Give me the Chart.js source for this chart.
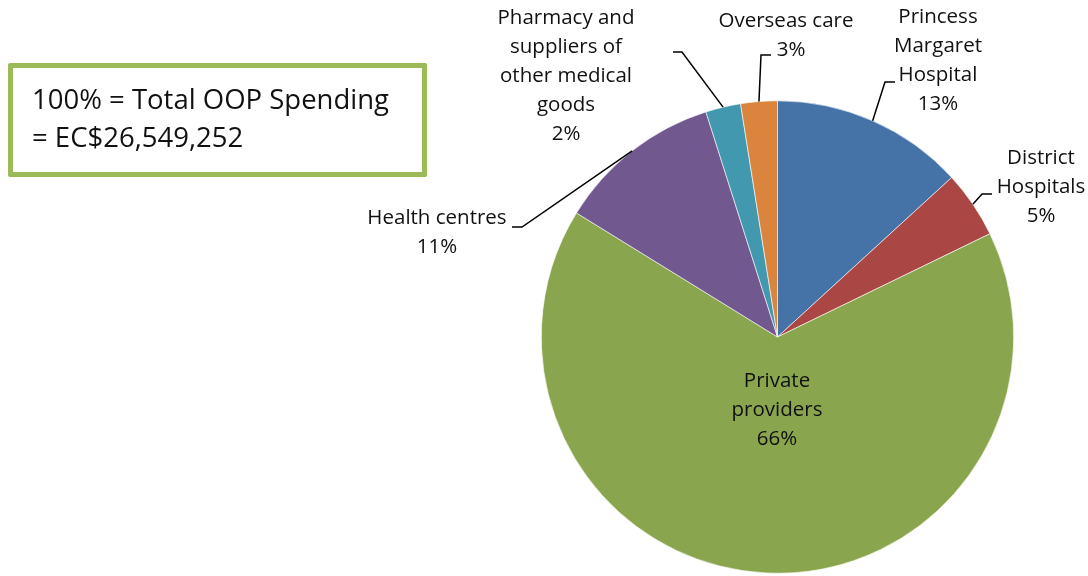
<!DOCTYPE html>
<html>
<head>
<meta charset="utf-8">
<script src="https://cdn.jsdelivr.net/npm/chart.js@4.4.1/dist/chart.umd.min.js"></script>
<style>
  html, body { margin: 0; padding: 0; background: #fff; }
  #wrap { position: relative; width: 1088px; height: 576px; }
  #note {
    position: absolute; left: 8px; top: 63px; width: 409px; height: 104px;
    border: 5px solid #9BBB59; border-radius: 2px; box-sizing: content-box;
    font-family: "Open Sans", Lato, sans-serif; font-size: 27.5px; color: #111;
    line-height: 38px; padding: 0;
  }
  #note div { position: absolute; left: 19px; white-space: nowrap; }
</style>
</head>
<body>
<div id="wrap">
  <canvas id="c" width="1088" height="576"></canvas>
  <div id="note"><div style="top:12px">100% = Total OOP Spending</div><div style="top:50px">= EC$26,549,252</div></div>
</div>
<script>
// Out-of-pocket spending by provider, share of total (%)
const categories = [
  ["Princess", "Margaret", "Hospital"],
  ["District", "Hospitals"],
  ["Private", "providers"],
  ["Health centres"],
  ["Pharmacy and", "suppliers of", "other medical", "goods"],
  ["Overseas care"]
];
const shares = [13.2, 4.6, 66.0, 11.3, 2.4, 2.5];
const colors = ["#4572A7", "#AA4643", "#89A54E", "#71588F", "#4198AF", "#DB843D"];

// Label placement: text centre x, first line y, leader elbow and tick end.
const labelLayout = [
  { x: 938, y: 17, elbow: [885, 82], tick: [895, 82] },
  { x: 1041, y: 158, elbow: [982, 194], tick: [992, 194] },
  { x: 777, y: 381, inside: true },
  { x: 437, y: 218, elbow: [522, 227], tick: [512, 227] },
  { x: 566, y: 18, elbow: [682, 52], tick: [673, 52] },
  { x: 786, y: 21, pctX: 791, elbow: [761, 55], tick: [771, 55] }
];

const FONT = '20.5px "Open Sans", Lato, sans-serif';
const LINE_H = 29;

const pieLabels = {
  id: 'pieLabels',
  afterDatasetsDraw(chart) {
    const ctx = chart.ctx;
    const meta = chart.getDatasetMeta(0);
    const total = shares.reduce((a, b) => a + b, 0);
    ctx.save();
    ctx.font = FONT;
    ctx.fillStyle = '#111';
    ctx.textAlign = 'center';
    ctx.textBaseline = 'middle';
    meta.data.forEach((arc, i) => {
      const L = labelLayout[i];
      const lines = categories[i];
      const pct = Math.round(shares[i] / total * 100) + '%';
      lines.forEach((t, k) => ctx.fillText(t, L.x, L.y + k * LINE_H));
      ctx.fillText(pct, L.pctX || L.x, L.y + lines.length * LINE_H);
      if (!L.inside) {
        const p = arc.getProps(['x', 'y', 'startAngle', 'endAngle', 'outerRadius'], true);
        const mid = (p.startAngle + p.endAngle) / 2;
        const sx = p.x + Math.cos(mid) * p.outerRadius;
        const sy = p.y + Math.sin(mid) * p.outerRadius;
        ctx.beginPath();
        ctx.strokeStyle = '#000';
        ctx.lineWidth = 1.5;
        ctx.moveTo(sx, sy);
        ctx.lineTo(L.elbow[0], L.elbow[1]);
        ctx.lineTo(L.tick[0], L.tick[1]);
        ctx.stroke();
      }
    });
    ctx.restore();
  }
};

new Chart(document.getElementById('c'), {
  type: 'pie',
  data: {
    labels: categories.map(l => l.join(' ')),
    datasets: [{
      data: shares,
      backgroundColor: colors,
      borderColor: '#ffffff',
      borderWidth: 0.6
    }]
  },
  options: {
    responsive: false,
    animation: false,
    rotation: 0,
    layout: { padding: { left: 541, right: 74, top: 100, bottom: 2 } },
    plugins: { legend: { display: false }, tooltip: { enabled: false } }
  },
  plugins: [pieLabels]
});
</script>
</body>
</html>
